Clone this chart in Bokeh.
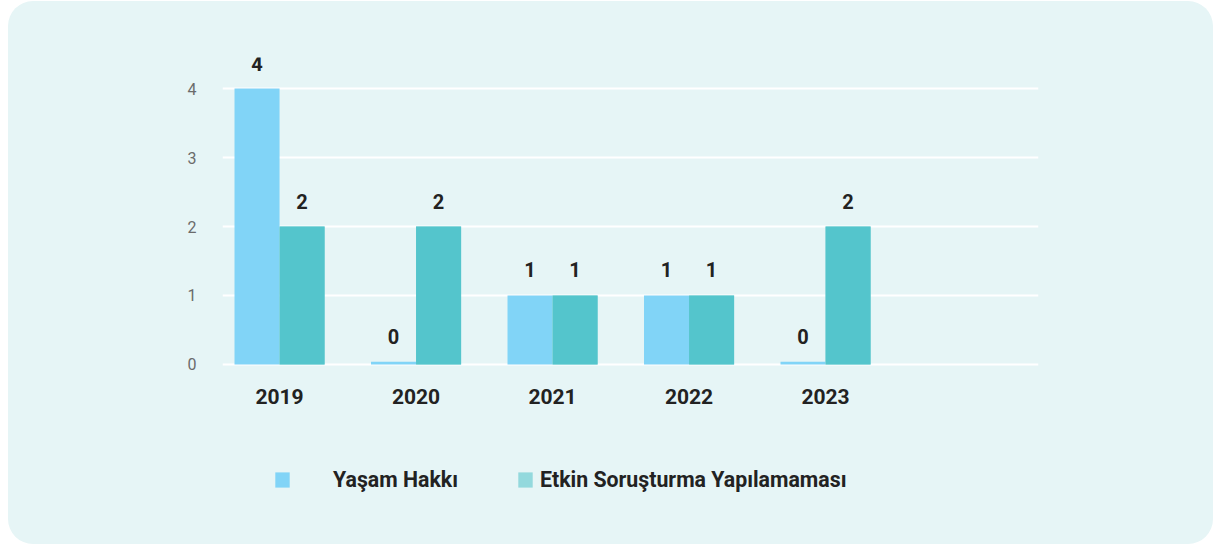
import numpy as np
from bokeh.plotting import figure
from bokeh.models import (Range1d, ColumnDataSource, LabelSet, Legend, LegendItem,
                          FixedTicker)
from bokeh.core.properties import value
from bokeh.embed import file_html
from bokeh.resources import INLINE

# ---- data ----
years = ["2019", "2020", "2021", "2022", "2023"]
yasam_hakki = [4, 0, 1, 1, 0]
etkin_sorusturma = [2, 2, 1, 1, 2]
series_names = ["Yaşam Hakkı", "Etkin Soruşturma Yapılamaması"]
y_ticks = [0, 1, 2, 3, 4]

# ---- styles ----
PANEL = "#E6F5F6"
C1 = "#81D4F7"
C2 = "#54C5CC"
C2_LEG = "#93D9DD"
FONT = "Roboto"
DARK = "#222222"

idx = np.arange(len(years))
off = 0.165
bw = 0.33
min_vis = 0.04  # tiny stub so zero bars remain visible

src = ColumnDataSource(dict(
    x1=idx - off, x2=idx + off, xc=idx, y0=np.zeros(len(years)), yr=years,
    t1=np.maximum(yasam_hakki, min_vis), t2=np.maximum(etkin_sorusturma, min_vis),
    l1=[str(v) for v in yasam_hakki], l2=[str(v) for v in etkin_sorusturma],
))

p = figure(width=1205, height=543,
           x_range=Range1d(-0.418, 5.56), y_range=Range1d(-2.61, 4.45),
           output_backend="svg", toolbar_location=None,
           min_border_left=214, min_border_right=175,
           min_border_top=56, min_border_bottom=0)
p.background_fill_color = None
p.border_fill_color = None
p.outline_line_color = None
p.styles = {"border-radius": "25px", "overflow": "hidden",
            "background-color": PANEL,
            "margin-left": "8px", "margin-top": "1px"}

p.xaxis.visible = False
p.xgrid.visible = False
p.ygrid.ticker = FixedTicker(ticks=y_ticks)
p.ygrid.grid_line_color = "white"
p.ygrid.grid_line_width = 2
p.yaxis.ticker = FixedTicker(ticks=y_ticks)
p.yaxis.axis_line_color = None
p.yaxis.major_tick_line_color = None
p.yaxis.minor_tick_line_color = None
p.yaxis.major_label_text_font = FONT
p.yaxis.major_label_text_font_size = "16px"
p.yaxis.major_label_text_color = "#6B6B6B"
p.yaxis.major_label_standoff = 20

r1 = p.vbar(x="x1", top="t1", bottom=0, width=bw, source=src, fill_color=C1, line_color=None)
# legend-swatch proxy for series 2 (lighter tone), fully covered by the real bars
r2_leg = p.vbar(x="x2", top="t2", bottom=0, width=bw, source=src, fill_color=C2_LEG, line_color=None)
r2 = p.vbar(x="x2", top="t2", bottom=0, width=bw, source=src, fill_color=C2, line_color=None)

for xc, tc, lc in (("x1", "t1", "l1"), ("x2", "t2", "l2")):
    p.add_layout(LabelSet(x=xc, y=tc, text=lc, source=src, y_offset=18,
                          text_align="center", text_baseline="alphabetic",
                          text_font=value(FONT), text_font_size="20px",
                          text_font_style="bold", text_color=DARK))

# category labels under the baseline
p.add_layout(LabelSet(x="xc", y="y0", text="yr", source=src, y_offset=-40,
                      text_align="center", text_baseline="alphabetic",
                      text_font=value(FONT), text_font_size="21px",
                      text_font_style="bold", text_color=DARK))

def make_legend(name, rend, loc, standoff):
    lg = Legend(items=[LegendItem(label=name, renderers=[rend])], location=loc,
                orientation="horizontal", glyph_width=18, glyph_height=19,
                label_standoff=standoff, padding=0, margin=0, spacing=0,
                border_line_color=None, background_fill_alpha=0,
                label_text_font=FONT, label_text_font_size="21.3px",
                label_text_font_style="bold", label_text_color=DARK,
                label_height=20)
    p.add_layout(lg, "center")

make_legend(series_names[0], r1, (51, 52), 42)
make_legend(series_names[1], r2_leg, (294, 52), 6)

open("out.html", "w").write(file_html(p, INLINE))
